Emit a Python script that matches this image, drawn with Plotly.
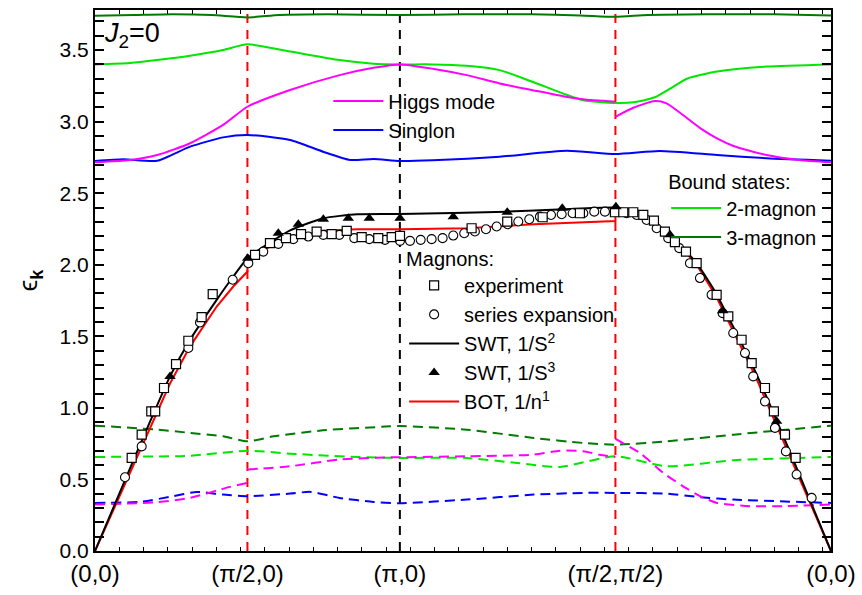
import math
import plotly.graph_objects as go

# ---------------- symmetry points along the k-path ----------------
K_POS = [0.0, math.pi / 2, math.pi, math.pi + math.pi / math.sqrt(2), math.pi + math.sqrt(2) * math.pi]
K_LABELS = ["(0,0)", "(π/2,0)", "(π,0)", "(π/2,π/2)", "(0,0)"]
Y_RANGE = [0.0, 3.78]

# ---------------- upper bands (solid) ----------------
mag3_x = [0, 0.4, 0.8, 1.2, 1.571, 1.9, 2.4, 3.142, 3.8, 4.5, 5.0, 5.363, 5.7, 6.3, 7.0, 7.584]
mag3_y = [3.74, 3.745, 3.75, 3.745, 3.728, 3.745, 3.75, 3.745, 3.75, 3.75, 3.742, 3.732, 3.745, 3.75, 3.75, 3.742]

mag2_x = [0, 0.36, 0.64, 0.98, 1.32, 1.571, 2.01, 2.52, 2.87, 3.142, 3.48, 3.83, 4.17, 4.5, 4.85, 5.03, 5.363, 5.55, 5.77, 5.95, 6.1, 6.41, 6.92, 7.584]
mag2_y = [3.40, 3.41, 3.43, 3.46, 3.50, 3.54, 3.49, 3.43, 3.405, 3.40, 3.40, 3.39, 3.36, 3.28, 3.19, 3.15, 3.13, 3.135, 3.17, 3.24, 3.30, 3.35, 3.385, 3.40]

higgsA_x = [0, 0.36, 0.64, 0.98, 1.32, 1.571, 2.01, 2.52, 2.87, 3.142, 3.48, 3.83, 4.17, 4.51, 4.85, 5.03, 5.363]
higgsA_y = [2.716, 2.732, 2.767, 2.849, 2.977, 3.104, 3.221, 3.325, 3.376, 3.40, 3.37, 3.325, 3.267, 3.22, 3.174, 3.156, 3.139]
higgsB_x = [5.363, 5.547, 5.77, 5.89, 6.06, 6.24, 6.41, 6.58, 6.92, 7.26, 7.584]
higgsB_y = [3.034, 3.097, 3.144, 3.128, 3.046, 2.953, 2.883, 2.83, 2.767, 2.732, 2.716]

singlon_x = [0, 0.29, 0.64, 0.98, 1.32, 1.571, 2.01, 2.35, 2.63, 2.87, 3.142, 3.48, 4.17, 4.86, 5.363, 5.82, 6.41, 6.92, 7.584]
singlon_y = [2.725, 2.737, 2.727, 2.825, 2.89, 2.907, 2.872, 2.79, 2.732, 2.739, 2.725, 2.73, 2.755, 2.797, 2.774, 2.795, 2.767, 2.744, 2.727]

# ---------------- lower bands (dashed) ----------------
mag3d_x = [0, 0.64, 0.98, 1.32, 1.571, 1.84, 2.35, 3.04, 3.142, 3.83, 4.52, 5.03, 5.363, 5.89, 6.58, 7.584]
mag3d_y = [0.876, 0.848, 0.825, 0.801, 0.766, 0.801, 0.843, 0.871, 0.874, 0.848, 0.79, 0.755, 0.743, 0.766, 0.813, 0.876]

mag2d_x = [0, 0.98, 1.571, 2.01, 2.70, 3.142, 3.83, 4.35, 4.79, 5.363, 5.89, 6.58, 7.584]
mag2d_y = [0.657, 0.666, 0.701, 0.68, 0.657, 0.65, 0.65, 0.615, 0.587, 0.662, 0.592, 0.634, 0.657]

higgsdA_x = [0, 0.64, 0.98, 1.39, 1.571]
higgsdA_y = [0.325, 0.341, 0.371, 0.448, 0.476]
higgsdB_x = [1.571, 2.01, 2.52, 3.04, 3.142, 3.83, 4.52, 4.79, 5.03, 5.20, 5.363]
higgsdB_y = [0.569, 0.592, 0.639, 0.655, 0.655, 0.662, 0.673, 0.701, 0.697, 0.673, 0.657]
higgsdC_x = [5.363, 5.615, 5.856, 6.06, 6.24, 6.41, 6.75, 7.09, 7.584]
higgsdC_y = [0.783, 0.685, 0.546, 0.452, 0.382, 0.336, 0.313, 0.313, 0.325]

singlond_x = [0, 0.46, 0.81, 1.05, 1.32, 1.571, 2.01, 2.22, 2.52, 2.87, 3.142, 3.83, 4.52, 5.03, 5.363, 5.89, 6.24, 6.58, 7.584]
singlond_y = [0.336, 0.343, 0.383, 0.413, 0.394, 0.383, 0.401, 0.413, 0.371, 0.343, 0.334, 0.359, 0.394, 0.406, 0.406, 0.401, 0.376, 0.359, 0.336]

# ---------------- magnons ----------------
swt2_x = [0, 0.4, 0.773, 0.98, 1.254, 1.425, 1.571, 2.01, 2.353, 2.70, 3.142, 4.24, 4.83, 5.363, 5.55, 5.65, 5.76, 5.87, 5.98, 6.09, 6.2, 6.4, 6.8, 7.2, 7.584]
swt2_y = [0, 0.64, 1.22, 1.476, 1.755, 1.918, 2.046, 2.24, 2.325, 2.353, 2.355, 2.371, 2.388, 2.40, 2.37, 2.348, 2.309, 2.232, 2.158, 2.092, 2.011, 1.80, 1.26, 0.63, 0]

bot_x = [0, 0.4, 0.773, 0.98, 1.254, 1.425, 1.571, 1.571, 1.837, 2.01, 2.353, 2.70, 3.142, 3.83, 4.52, 5.363, 5.363, 5.55, 5.65, 5.76, 5.87, 5.98, 6.09, 6.2, 6.4, 6.8, 7.2, 7.584]
bot_y = [0, 0.60, 1.17, 1.43, 1.708, 1.848, 1.953, 2.04, 2.139, 2.186, 2.237, 2.248, 2.248, 2.255, 2.283, 2.306, 2.37, 2.36, 2.34, 2.30, 2.225, 2.15, 2.085, 2.0, 1.78, 1.23, 0.60, 0]

exp_x = [0.378, 0.481, 0.58, 0.62, 0.711, 0.835, 0.962, 1.099, 1.213, 1.649, 1.803, 1.968, 2.123, 2.284, 2.439, 2.594, 2.748, 2.919, 3.057, 3.143,
         3.881, 4.248, 4.613, 4.997, 5.358, 5.444, 5.547, 5.65, 5.76, 5.873, 5.976, 6.09, 6.2, 6.406, 6.526, 6.663, 6.767, 6.904, 6.996, 7.11, 7.22]
exp_y = [0.65, 0.813, 0.976, 0.976, 1.139, 1.306, 1.469, 1.634, 1.795, 2.069, 2.151, 2.186, 2.214, 2.232, 2.214, 2.237, 2.193, 2.186, 2.193, 2.202,
         2.255, 2.302, 2.332, 2.36, 2.367, 2.367, 2.367, 2.348, 2.309, 2.232, 2.158, 2.092, 2.011, 1.79, 1.639, 1.476, 1.313, 1.139, 0.976, 0.813, 0.65]
exp_err = [0.025] * len(exp_x)

se_x = [0.309, 0.481, 0.962, 1.082, 1.419, 1.58, 1.734, 1.889, 2.043, 2.198, 2.353, 2.518, 2.672, 2.826, 2.988, 3.143,
        3.246, 3.356, 3.469, 3.582, 3.692, 3.805, 3.915, 4.029, 4.139, 4.252, 4.362, 4.475, 4.585, 4.699, 4.809, 4.922, 5.032, 5.145, 5.255, 5.368,
        5.479, 5.582, 5.685, 5.788, 5.907, 6.021, 6.131, 6.234, 6.354, 6.468, 6.577, 6.698, 6.783, 6.904, 7.007, 7.12, 7.23, 7.385]
se_y = [0.515, 0.731, 1.418, 1.597, 1.895, 2.011, 2.092, 2.146, 2.179, 2.197, 2.209, 2.209, 2.186, 2.179, 2.174, 2.167,
        2.167, 2.174, 2.179, 2.186, 2.204, 2.22, 2.232, 2.248, 2.267, 2.283, 2.302, 2.318, 2.336, 2.348, 2.353, 2.36, 2.36, 2.371, 2.371, 2.371,
        2.36, 2.348, 2.313, 2.255, 2.186, 2.116, 2.011, 1.907, 1.79, 1.662, 1.523, 1.383, 1.22, 1.045, 0.86, 0.696, 0.534, 0.371]

swt3_x = [0.773, 1.573, 1.889, 2.095, 2.353, 2.61, 2.826, 3.143, 3.692, 4.248, 4.815, 5.368, 5.925, 6.468, 7.024]
swt3_y = [1.22, 2.046, 2.22, 2.283, 2.318, 2.325, 2.325, 2.325, 2.336, 2.367, 2.395, 2.406, 2.209, 1.678, 0.906]

# ---------------- styles ----------------
MAGENTA = "#ff00ff"
BLUE = "#0000ff"
LGREEN = "#00e600"
DGREEN = "#007a00"
RED = "#ff0000"
FONT = "Liberation Sans, Arial, sans-serif"
LEG_SIZE = 20

fig = go.Figure()

# vertical guide lines at symmetry points
for idx, col in [(1, RED), (2, "black"), (3, RED)]:
    fig.add_trace(go.Scatter(x=[K_POS[idx], K_POS[idx]], y=Y_RANGE, mode="lines",
                             line=dict(color=col, width=2, dash="9px,7px"), showlegend=False, hoverinfo="skip"))

# dashed lower bands
for xs, ys, col in [(mag3d_x, mag3d_y, DGREEN), (mag2d_x, mag2d_y, LGREEN), (singlond_x, singlond_y, BLUE),
                    (higgsdA_x, higgsdA_y, MAGENTA), (higgsdB_x, higgsdB_y, MAGENTA), (higgsdC_x, higgsdC_y, MAGENTA)]:
    fig.add_trace(go.Scatter(x=xs, y=ys, mode="lines", line=dict(color=col, width=2, dash="10px,6px", shape="spline", smoothing=0.6),
                             showlegend=False, hoverinfo="skip"))

# solid upper bands
fig.add_trace(go.Scatter(x=mag3_x, y=mag3_y, mode="lines", line=dict(color=DGREEN, width=2, shape="spline", smoothing=0.6),
                         name="3-magnon", legend="legend2", legendrank=2))
fig.add_trace(go.Scatter(x=mag2_x, y=mag2_y, mode="lines", line=dict(color=LGREEN, width=2, shape="spline", smoothing=0.6),
                         name="2-magnon", legend="legend2", legendrank=1))
fig.add_trace(go.Scatter(x=singlon_x, y=singlon_y, mode="lines", line=dict(color=BLUE, width=2, shape="spline", smoothing=0.6),
                         name="Singlon", legend="legend", legendrank=2))
fig.add_trace(go.Scatter(x=higgsA_x, y=higgsA_y, mode="lines", line=dict(color=MAGENTA, width=2, shape="spline", smoothing=0.6),
                         name="Higgs mode", legend="legend", legendrank=1))
fig.add_trace(go.Scatter(x=higgsB_x, y=higgsB_y, mode="lines", line=dict(color=MAGENTA, width=2, shape="spline", smoothing=0.6),
                         showlegend=False))

# magnons
fig.add_trace(go.Scatter(x=bot_x, y=bot_y, mode="lines", line=dict(color=RED, width=2),
                         name="BOT, 1/n<sup>1</sup>", legend="legend3", legendrank=5))
fig.add_trace(go.Scatter(x=swt2_x, y=swt2_y, mode="lines", line=dict(color="black", width=2, shape="spline", smoothing=0.5),
                         name="SWT, 1/S<sup>2</sup>", legend="legend3", legendrank=3))
fig.add_trace(go.Scatter(x=se_x, y=se_y, mode="markers",
                         marker=dict(symbol="circle", size=9, color="white", line=dict(width=1.1, color="black")),
                         name="series expansion", legend="legend3", legendrank=2))
fig.add_trace(go.Scatter(x=exp_x, y=exp_y, mode="markers",
                         marker=dict(symbol="square", size=9, color="white", line=dict(width=1.2, color="black")),
                         error_y=dict(type="data", array=exp_err, color="black", thickness=1, width=3),
                         name="experiment", legend="legend3", legendrank=1))
fig.add_trace(go.Scatter(x=swt3_x, y=swt3_y, mode="markers",
                         marker=dict(symbol="triangle-up", size=10, color="black"),
                         name="SWT, 1/S<sup>3</sup>", legend="legend3", legendrank=4))

# overlay axis that carries the symmetry-point labels
fig.add_trace(go.Scatter(x=[K_POS[0], K_POS[-1]], y=Y_RANGE, xaxis="x2", mode="markers",
                         marker=dict(opacity=0), showlegend=False, hoverinfo="skip"))

leg_common = dict(borderwidth=0, bgcolor="rgba(0,0,0,0)", font=dict(family=FONT, size=LEG_SIZE, color="black"),
                  xanchor="left", yanchor="top", itemwidth=50, tracegroupgap=0, traceorder="normal")

fig.update_layout(
    width=862, height=595,
    margin=dict(l=95, r=31, t=10, b=44),
    paper_bgcolor="white", plot_bgcolor="white",
    font=dict(family=FONT, size=21, color="black"),
    xaxis=dict(range=[K_POS[0], K_POS[-1]], showgrid=False, zeroline=False, showline=True, linecolor="black", linewidth=2,
               mirror="allticks", ticks="inside", tickmode="linear", tick0=0, dtick=0.25, ticklen=4, tickwidth=1,
               tickcolor="black", showticklabels=False, automargin=False),
    xaxis2=dict(overlaying="x", matches="x", side="bottom", showgrid=False, zeroline=False, showline=False,
                tickmode="array", tickvals=K_POS, ticktext=K_LABELS, ticks="", automargin=False, ticklabelstandoff=6,
                tickfont=dict(family=FONT, size=24)),
    yaxis=dict(range=Y_RANGE, showgrid=False, zeroline=False, showline=True, linecolor="black", linewidth=2,
               mirror="allticks", ticks="inside", tickmode="linear", tick0=0, dtick=0.5, ticklen=9, tickwidth=2,
               tickcolor="black", tickformat=".1f", tickfont=dict(size=21), automargin=False,
               minor=dict(ticks="inside", dtick=0.1, ticklen=5, tickwidth=1.5, tickcolor="black"),
               title=dict(text="ϵ<sub><b>k</b></sub>", font=dict(size=26), standoff=14)),
    legend=dict(x=0.317, y=0.868, **leg_common),
    legend2=dict(x=0.776, y=0.718, title=dict(text="Bound states:", font=dict(family=FONT, size=LEG_SIZE)), **leg_common),
    legend3=dict(x=0.42, y=0.575, title=dict(text="Magnons:", font=dict(family=FONT, size=LEG_SIZE)), **leg_common),
    annotations=[dict(text="<i>J</i><sub>2</sub>=0", xref="paper", yref="paper", x=0.009, y=0.953,
                      xanchor="left", yanchor="middle", showarrow=False, font=dict(family=FONT, size=27))],
)

fig.write_html("out.html", config={"displayModeBar": False},
               post_script="document.body.style.margin='0px';")
